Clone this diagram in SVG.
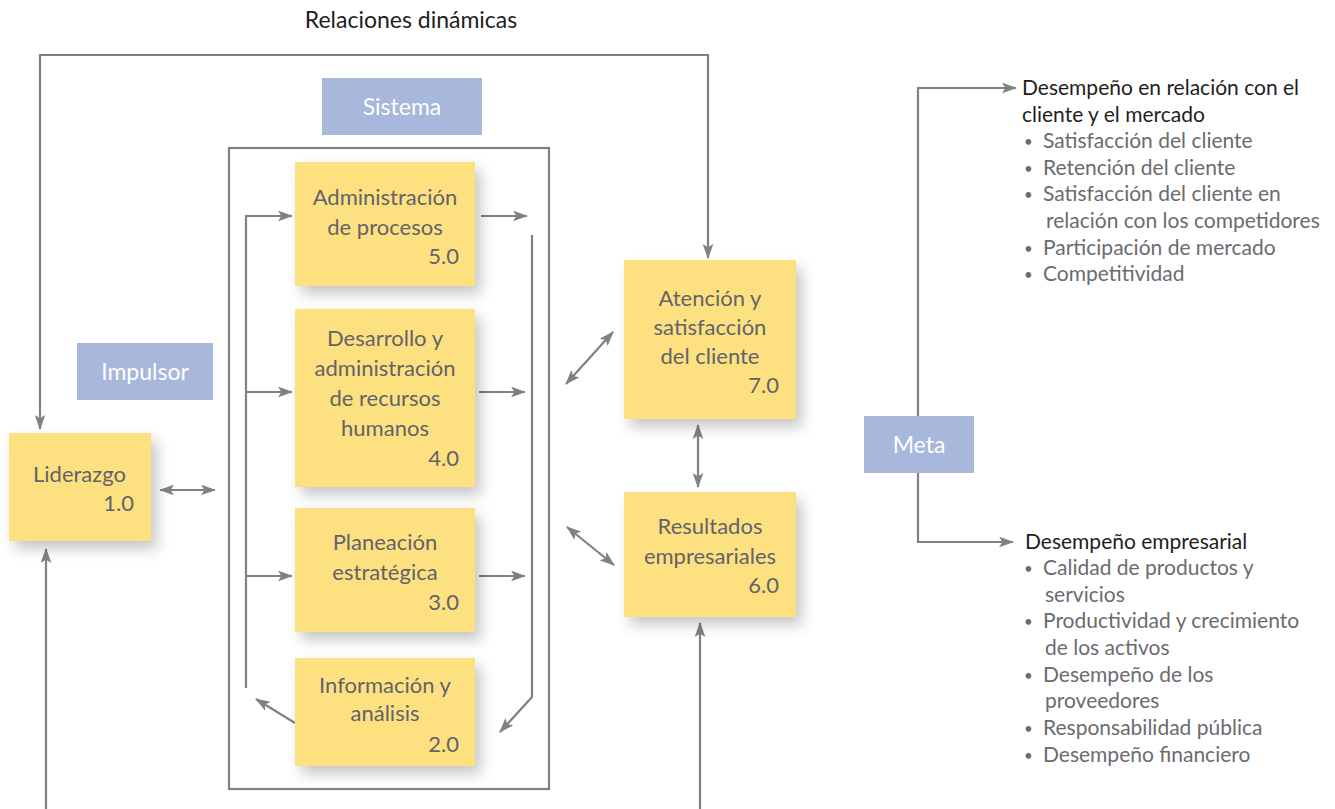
<svg xmlns="http://www.w3.org/2000/svg" width="1335" height="809" viewBox="0 0 1335 809">
<defs>
<style>
.node{fill:#fde181;filter:url(#sh)}
.lab{fill:#a7b8dc}
.lt{font-family:Lato,"Liberation Sans",sans-serif;font-size:23px;fill:#fff;text-anchor:middle}
.nt{font-family:Lato,"Liberation Sans",sans-serif;font-size:22px;fill:#636369;text-anchor:middle}
.num{text-anchor:end}
.ln{fill:none;stroke:#808086;stroke-width:2.2}
.hd{font-family:Lato,"Liberation Sans",sans-serif;font-size:21px;fill:#1e1e1e}
.it{font-family:Lato,"Liberation Sans",sans-serif;font-size:21px;fill:#6b6b70}
.bu{font-family:Lato,"Liberation Sans",sans-serif;font-size:15px;fill:#6b6b70}
</style>
<marker id="ah" viewBox="0 0 14 10" refX="13" refY="5" markerWidth="15" markerHeight="11" markerUnits="userSpaceOnUse" orient="auto-start-reverse"><path d="M0,0 L14,5 L0,10 L3,5 Z" fill="#808086"/></marker>
<filter id="sh" x="-20%" y="-20%" width="150%" height="150%"><feDropShadow dx="6" dy="8" stdDeviation="7" flood-color="#000" flood-opacity="0.22"/></filter>
</defs>
<rect width="1335" height="809" fill="#fff"/>
<text x="411" y="28" class="hd" style="font-size:23px;text-anchor:middle">Relaciones dinámicas</text>

<g id="connectors">
<path class="ln" d="M708,258 V55 H40 V429" marker-start="url(#ah)" marker-end="url(#ah)"/>
<rect x="229" y="148" width="320" height="641" class="ln"/>
<path class="ln" d="M246,688 V216 H292" marker-end="url(#ah)"/>
<path class="ln" d="M246,392 H292" marker-end="url(#ah)"/>
<path class="ln" d="M246,576 H292" marker-end="url(#ah)"/>
<path class="ln" d="M481,216 H527" marker-end="url(#ah)"/>
<path class="ln" d="M479,392 H525" marker-end="url(#ah)"/>
<path class="ln" d="M479,576 H525" marker-end="url(#ah)"/>
<path class="ln" d="M532,235 V697 L500,732" marker-end="url(#ah)"/>
<path class="ln" d="M295,723 L256,699" marker-end="url(#ah)"/>
<path class="ln" d="M160,490 H215" marker-start="url(#ah)" marker-end="url(#ah)"/>
<path class="ln" d="M566,384 L613,332" marker-start="url(#ah)" marker-end="url(#ah)"/>
<path class="ln" d="M567,527 L614,565" marker-start="url(#ah)" marker-end="url(#ah)"/>
<path class="ln" d="M698,425 V487" marker-start="url(#ah)" marker-end="url(#ah)"/>
<path class="ln" d="M46,809 V549" marker-end="url(#ah)"/>
<path class="ln" d="M700,809 V623" marker-end="url(#ah)"/>
<path class="ln" d="M918,416 V88 H1016" marker-end="url(#ah)"/>
<path class="ln" d="M918,472 V542 H1013" marker-end="url(#ah)"/>
</g>

<g id="sistema"><rect class="lab" x="322" y="78" width="160" height="57"/><text class="lt" x="402" y="115">Sistema</text></g>
<g id="impulsor"><rect class="lab" x="77" y="343" width="136" height="57"/><text class="lt" x="145" y="380">Impulsor</text></g>
<g id="meta"><rect class="lab" x="864" y="416" width="110" height="57"/><text class="lt" x="919" y="453">Meta</text></g>

<g id="n5"><rect class="node" x="295" y="162" width="180" height="124"/>
<text class="nt" x="385" y="205">Administración</text><text class="nt" x="385" y="235">de procesos</text><text class="nt num" x="459" y="264">5.0</text></g>
<g id="n4"><rect class="node" x="295" y="309" width="180" height="178"/>
<text class="nt" x="385" y="346">Desarrollo y</text><text class="nt" x="385" y="376">administración</text><text class="nt" x="385" y="406">de recursos</text><text class="nt" x="385" y="436">humanos</text><text class="nt num" x="459" y="466">4.0</text></g>
<g id="n3"><rect class="node" x="295" y="508" width="180" height="124"/>
<text class="nt" x="385" y="550">Planeación</text><text class="nt" x="385" y="580">estratégica</text><text class="nt num" x="459" y="610">3.0</text></g>
<g id="n2"><rect class="node" x="295" y="658" width="180" height="108"/>
<text class="nt" x="385" y="693">Información y</text><text class="nt" x="385" y="721">análisis</text><text class="nt num" x="459" y="752">2.0</text></g>
<g id="n1"><rect class="node" x="9" y="433" width="142" height="108"/>
<text class="nt" x="33" y="482" style="text-anchor:start">Liderazgo</text><text class="nt num" x="134" y="511">1.0</text></g>
<g id="n7"><rect class="node" x="624" y="260" width="172" height="159"/>
<text class="nt" x="710" y="306">Atención y</text><text class="nt" x="710" y="335">satisfacción</text><text class="nt" x="710" y="364">del cliente</text><text class="nt num" x="779" y="393">7.0</text></g>
<g id="n6"><rect class="node" x="624" y="492" width="172" height="125"/>
<text class="nt" x="710" y="534">Resultados</text><text class="nt" x="710" y="564">empresariales</text><text class="nt num" x="779" y="593">6.0</text></g>

<g id="meta-cliente">
<text class="hd" x="1022" y="95">Desempeño en relación con el</text>
<text class="hd" x="1022" y="122">cliente y el mercado</text>
<text class="bu" x="1024" y="147">•</text><text class="it" x="1043" y="148">Satisfacción del cliente</text>
<text class="bu" x="1024" y="174">•</text><text class="it" x="1043" y="175">Retención del cliente</text>
<text class="bu" x="1024" y="200">•</text><text class="it" x="1043" y="201">Satisfacción del cliente en</text>
<text class="it" x="1046" y="228">relación con los competidores</text>
<text class="bu" x="1024" y="254">•</text><text class="it" x="1043" y="255">Participación de mercado</text>
<text class="bu" x="1024" y="280">•</text><text class="it" x="1043" y="281">Competitividad</text>
</g>
<g id="meta-empresa">
<text class="hd" x="1025" y="549">Desempeño empresarial</text>
<text class="bu" x="1024" y="574">•</text><text class="it" x="1043" y="575">Calidad de productos y</text>
<text class="it" x="1045" y="602">servicios</text>
<text class="bu" x="1024" y="627">•</text><text class="it" x="1043" y="628">Productividad y crecimiento</text>
<text class="it" x="1045" y="655">de los activos</text>
<text class="bu" x="1024" y="681">•</text><text class="it" x="1043" y="682">Desempeño de los</text>
<text class="it" x="1045" y="708">proveedores</text>
<text class="bu" x="1024" y="734">•</text><text class="it" x="1043" y="735">Responsabilidad pública</text>
<text class="bu" x="1024" y="761">•</text><text class="it" x="1043" y="762">Desempeño financiero</text>
</g>
</svg>
